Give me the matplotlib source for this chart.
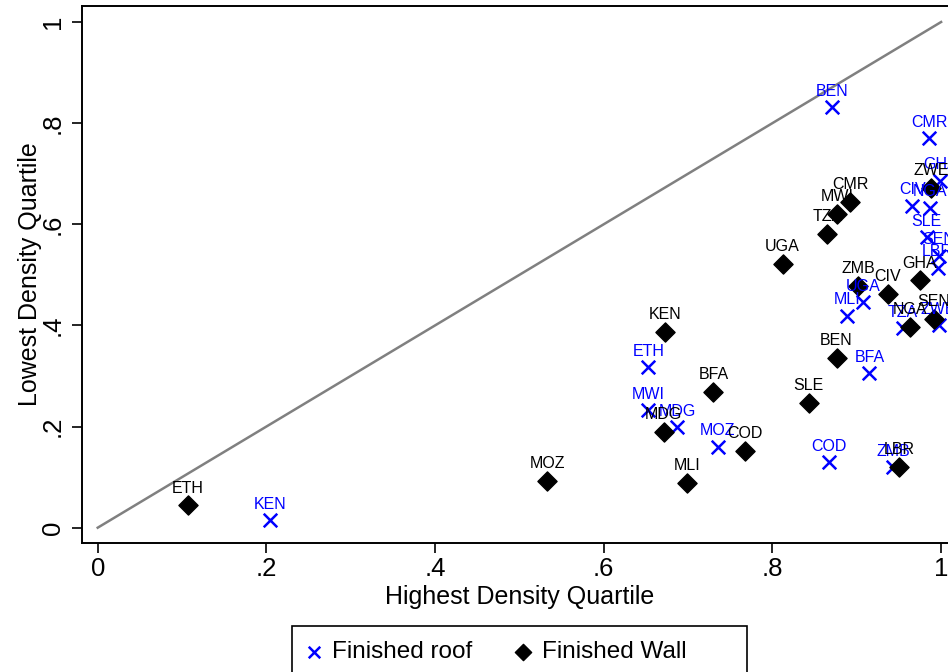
import matplotlib.pyplot as plt
from matplotlib.patches import Rectangle

plt.rcParams["font.family"] = ["Liberation Sans", "DejaVu Sans"]

# share with finished roof / finished wall, highest vs lowest density quartile
roof_countries = ["BEN", "CMR", "GHA", "CIV", "NGA", "SLE", "SEN", "LBR", "UGA", "MLI",
                  "TZA", "ZWE", "BFA", "COD", "ZMB", "KEN", "ETH", "MWI", "MDG", "MOZ"]
roof_high = [0.871, 0.986, 0.999, 0.966, 0.987, 0.983, 0.997, 0.996, 0.907, 0.888,
             0.955, 0.997, 0.915, 0.867, 0.943, 0.204, 0.653, 0.653, 0.687, 0.735]
roof_low = [0.832, 0.770, 0.686, 0.637, 0.633, 0.574, 0.538, 0.514, 0.446, 0.419,
            0.395, 0.400, 0.306, 0.130, 0.120, 0.015, 0.318, 0.233, 0.199, 0.160]

wall_countries = ["ETH", "MOZ", "MLI", "MDG", "COD", "BFA", "KEN", "SLE", "BEN", "UGA",
                  "TZA", "MWI", "CMR", "ZWE", "ZMB", "CIV", "GHA", "SEN", "NGA", "LBR"]
wall_high = [0.107, 0.533, 0.699, 0.671, 0.767, 0.730, 0.673, 0.843, 0.876, 0.812,
             0.865, 0.877, 0.892, 0.988, 0.902, 0.937, 0.975, 0.991, 0.963, 0.950]
wall_low = [0.044, 0.092, 0.088, 0.189, 0.152, 0.268, 0.387, 0.247, 0.336, 0.521,
            0.581, 0.620, 0.644, 0.672, 0.478, 0.462, 0.489, 0.413, 0.397, 0.120]

ticks = [0, 0.2, 0.4, 0.6, 0.8, 1]
tick_labels = ["0", ".2", ".4", ".6", ".8", "1"]

fig = plt.figure(figsize=(9.48, 6.72), dpi=100)
ax = fig.add_axes([0.0868, 0.1924, 0.9222, 0.7991])

ax.plot([0, 1], [0, 1], color="#808080", lw=1.8, zorder=1)

ax.scatter(roof_high, roof_low, marker="x", s=95, color="blue", linewidths=1.8,
           label="Finished roof", zorder=3)
ax.scatter(wall_high, wall_low, marker="D", s=95, color="black",
           label="Finished Wall", zorder=3)

for name, x, y in zip(roof_countries, roof_high, roof_low):
    ax.annotate(name, (x, y), xytext=(0, 6), textcoords="offset points",
                ha="center", va="bottom", fontsize=11.5, color="blue")
for name, x, y in zip(wall_countries, wall_high, wall_low):
    ax.annotate(name, (x, y), xytext=(0, 7), textcoords="offset points",
                ha="center", va="bottom", fontsize=11.5, color="black")

ax.set_xlim(-0.0183, 1.0183)
ax.set_ylim(-0.0297, 1.0322)
ax.set_xticks(ticks)
ax.set_xticklabels(tick_labels)
ax.set_yticks(ticks)
ax.set_yticklabels(tick_labels, rotation=90, va="center")
ax.tick_params(direction="out", length=7.5, width=1.2, labelsize=18.5)
ax.tick_params(axis="x", pad=3)
ax.tick_params(axis="y", pad=5)
for side in ["left", "bottom", "top", "right"]:
    ax.spines[side].set_linewidth(1.4)

ax.set_xlabel("Highest Density Quartile", fontsize=18, labelpad=3)
ax.set_ylabel("Lowest Density Quartile", fontsize=18, labelpad=-1)

# legend at the bottom, its box runs past the lower edge like the original
leg = fig.legend(loc="upper left", bbox_to_anchor=(292 / 948, 1 - 629 / 672),
                 ncol=2, fontsize=17.5, frameon=False,
                 borderpad=0.5, borderaxespad=0,
                 columnspacing=1.7, handletextpad=0.35, handlelength=0.8,
                 markerscale=0.85)
box = Rectangle((292 / 948, 1 - 682 / 672), 455 / 948, 56 / 672,
                transform=fig.transFigure, fill=False, edgecolor="black",
                linewidth=1.2)
fig.patches.append(box)

fig.savefig("out.png", dpi=100)
